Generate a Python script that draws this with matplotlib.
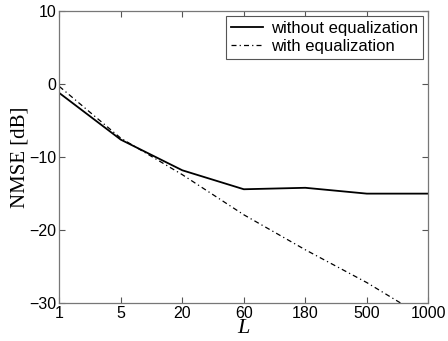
import numpy as np
import matplotlib
matplotlib.use('Agg')
import matplotlib.pyplot as plt

# filter length L, plotted at equally spaced positions
L_labels = ['1', '5', '20', '60', '180', '500', '1000']
nmse_without = [-1.2, -7.6, -11.8, -14.4, -14.2, -15.0, -15.0]
nmse_with = [-0.3, -7.4, -12.4, -17.9, -22.7, -27.2, -32.3]

plt.rcParams['font.family'] = ['Liberation Sans', 'DejaVu Sans']

fig = plt.figure(figsize=(4.48, 3.41), dpi=100)
ax = fig.add_axes([0.1324, 0.1114, 0.8237, 0.8554])

x = np.arange(len(L_labels))
ax.plot(x, nmse_without, color='black', lw=1.3, ls='-', label='without equalization')
ax.plot(x, nmse_with, color='black', lw=0.9, ls=(0, (4, 2.5, 1, 2.5)), label='with equalization')

ax.set_xlim(0, len(L_labels) - 1)
ax.set_ylim(-30, 10)
ax.set_xticks(x)
ax.set_xticklabels(L_labels)
ax.set_yticks([-30, -20, -10, 0, 10])

ax.tick_params(direction='in', length=4, width=0.8, top=True, right=True,
               labelsize=11.5, pad=2, color='#555555')
for s in ax.spines.values():
    s.set_color('#777777')
    s.set_linewidth(0.9)

ax.set_ylabel('NMSE [dB]', family=['Liberation Serif', 'DejaVu Serif'], fontsize=15, labelpad=0)
ax.set_xlabel('L', family=['Liberation Serif', 'DejaVu Serif'], style='italic',
              fontsize=16, labelpad=-1)

leg = ax.legend(loc='upper right', fontsize=12, fancybox=False, framealpha=1,
                borderaxespad=0.3, handlelength=1.9, handletextpad=0.5,
                borderpad=0.3, labelspacing=0.15)
leg.get_frame().set_edgecolor('#555555')
leg.get_frame().set_linewidth(0.8)

fig.savefig('out.png', dpi=100)
